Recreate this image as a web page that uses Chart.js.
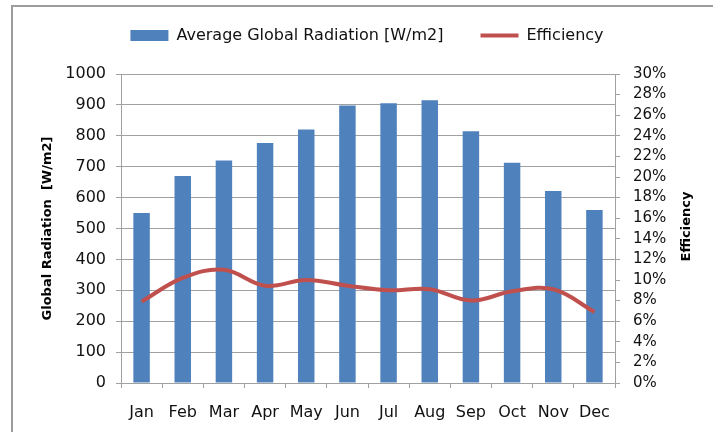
<!DOCTYPE html>
<html>
<head>
<meta charset="utf-8">
<script src="https://cdn.jsdelivr.net/npm/chart.js@4.4.1/dist/chart.umd.min.js"></script>
<style>
  html, body { margin: 0; padding: 0; background: #fff; overflow: hidden; }
  #wrap { position: relative; width: 713px; height: 432px; }
  #frame {
    position: absolute; left: 11px; top: 5px; width: 760px; height: 480px;
    border-top: 2px solid #9c9c9c; border-left: 2px solid #9c9c9c;
  }
  #radChart { position: absolute; left: 0; top: 0; }
</style>
</head>
<body>
<div id="wrap">
  <div id="frame"></div>
  <canvas id="radChart" width="713" height="432"></canvas>
</div>
<script>
// values
const months = ['Jan', 'Feb', 'Mar', 'Apr', 'May', 'Jun', 'Jul', 'Aug', 'Sep', 'Oct', 'Nov', 'Dec'];
const radiation = [550, 670, 720, 777, 820, 898, 905, 915, 815, 713, 621, 560];
const efficiency = [7.9, 10.2, 11.0, 9.45, 10.0, 9.45, 9.0, 9.1, 8.0, 8.9, 9.1, 6.9];

const radLabel = 'Average Global Radiation [W/m2]';
const effLabel = 'Efficiency';
const leftTitle = 'Global Radiation  [W/m2]';
const rightTitle = 'Efficiency';

const gridGray = '#a0a0a0';
const textColor = '#111';

Chart.defaults.font.family = '"DejaVu Sans", Verdana, sans-serif';
Chart.defaults.font.size = 16;
Chart.defaults.color = textColor;

// legend needs more room below it than chart.js gives by default
const legendGap = {
  id: 'legendGap',
  beforeInit(chart) {
    const fit = chart.legend.fit;
    chart.legend.fit = function () {
      fit.call(this);
      this.height = 83.5;
    };
  }
};

// right axis title reads bottom-to-top, like the left one
const rightAxisTitle = {
  id: 'rightAxisTitle',
  afterDraw(chart) {
    const { ctx, chartArea } = chart;
    const scale = chart.scales.y1;
    ctx.save();
    ctx.translate(scale.right - 22, (chartArea.top + chartArea.bottom) / 2 - 2);
    ctx.rotate(-Math.PI / 2);
    ctx.font = 'bold 13px "DejaVu Sans", Verdana, sans-serif';
    ctx.fillStyle = '#000';
    ctx.textAlign = 'center';
    ctx.textBaseline = 'middle';
    ctx.fillText(rightTitle, 0, 0);
    ctx.restore();
  }
};

const ctx = document.getElementById('radChart').getContext('2d');

new Chart(ctx, {
  type: 'bar',
  data: {
    labels: months,
    datasets: [
      {
        type: 'bar',
        label: radLabel,
        data: radiation,
        yAxisID: 'y',
        backgroundColor: '#4f81bd',
        borderWidth: 0,
        barPercentage: 0.4,
        categoryPercentage: 1.0,
        pointStyle: 'rect',
        order: 1
      },
      {
        type: 'line',
        label: effLabel,
        data: efficiency,
        yAxisID: 'y1',
        borderColor: '#c0504d',
        backgroundColor: '#c0504d',
        borderWidth: 4,
        tension: 0.38,
        pointRadius: 0,
        pointHoverRadius: 0,
        pointStyle: 'line',
        fill: false,
        order: 0
      }
    ]
  },
  options: {
    responsive: false,
    animation: false,
    devicePixelRatio: 1,
    layout: {
      padding: { top: -9.5, left: 25, right: 4, bottom: 0 }
    },
    plugins: {
      tooltip: { enabled: false },
      legend: {
        position: 'top',
        labels: {
          usePointStyle: true,
          pointStyleWidth: 38,
          boxHeight: 11,
          padding: 37,
          color: textColor,
          font: { size: 16 },
          sort: (a, b) => a.datasetIndex - b.datasetIndex
        }
      }
    },
    scales: {
      x: {
        offset: true,
        grid: {
          offset: true,
          drawOnChartArea: false,
          drawTicks: true,
          tickLength: 5,
          color: gridGray
        },
        border: { color: gridGray, width: 1 },
        ticks: { padding: 15, color: textColor, font: { size: 16 }, maxRotation: 0, autoSkip: false },
        afterFit(scale) { scale.height = 49; }
      },
      y: {
        position: 'left',
        min: 0,
        max: 1000,
        ticks: {
          stepSize: 100,
          padding: 10,
          color: textColor,
          font: { size: 16 },
          autoSkip: false,
          callback: (v) => String(v)
        },
        grid: { color: gridGray, lineWidth: 1, tickLength: 5 },
        border: { color: gridGray, width: 1 },
        title: {
          display: true,
          text: leftTitle,
          color: '#000',
          font: { size: 13, weight: 'bold' },
          padding: { top: 15, bottom: 4 }
        },
        afterFit(scale) { scale.width = 96; }
      },
      y1: {
        position: 'right',
        min: 0,
        max: 30,
        ticks: {
          stepSize: 2,
          padding: 13,
          color: textColor,
          font: { size: 15 },
          autoSkip: false,
          callback: (v) => v + '%'
        },
        grid: { drawOnChartArea: false, color: gridGray, tickLength: 5 },
        border: { color: gridGray, width: 1 },
        afterFit(scale) { scale.width = 94; }
      }
    }
  },
  plugins: [legendGap, rightAxisTitle]
});
</script>
</body>
</html>
